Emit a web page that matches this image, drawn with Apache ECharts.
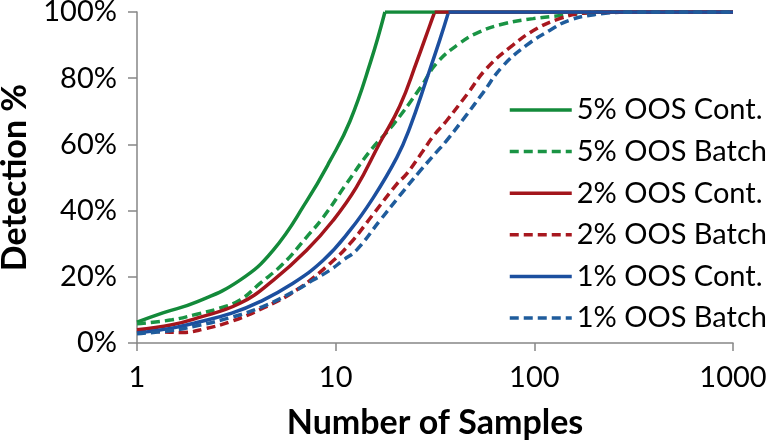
<!DOCTYPE html>
<html>
<head>
<meta charset="utf-8">
<script src="https://cdn.jsdelivr.net/npm/echarts@6/dist/echarts.min.js"></script>
<style>
html,body{margin:0;padding:0;background:#fff;}
#chart{width:767px;height:442px;}
</style>
</head>
<body>
<div id="chart"></div>
<script>
// Data (x = number of samples, y = detection %)
var seriesNames = ['5% OOS Cont.', '5% OOS Batch', '2% OOS Cont.', '2% OOS Batch', '1% OOS Cont.', '1% OOS Batch'];

var cont5X = [1, 1.35, 2, 3.3, 4.84, 7.17, 9.36, 11.8, 15, 17.7, 1000];
var cont5Y = [6.3, 9.1, 12.4, 19, 28, 43, 55, 67, 85, 100, 100];

var batch5X = [1, 1.5, 2, 2.6, 3.3, 4.16, 5.45, 7.14, 8.66, 11.3, 14.9, 19.5, 26.6, 32.2, 42, 53, 72, 98.6, 139, 200, 1000];
var batch5Y = [5.8, 7, 8.7, 10.5, 13, 18, 24, 32, 38, 48, 58, 66, 77, 84.5, 90.5, 94, 96.6, 98, 99, 100, 100];

var cont2X = [1, 1.5, 2, 3.3, 4.86, 7.14, 9.7, 12.7, 16.7, 21, 25.6, 29.8, 31.5, 1000];
var cont2Y = [4, 5.5, 7.5, 12, 19, 28, 37, 47, 60.5, 71.5, 85, 96, 100, 100];

var batch2X = [1, 1.3, 1.7, 2.2, 2.94, 4.3, 6.35, 9.36, 11.8, 15.5, 20.3, 22.7, 27.5, 31, 36, 45.7, 57.6, 78, 103, 134, 169, 220, 1000];
var batch2Y = [4, 3.4, 3.2, 4.3, 6.4, 10.5, 16, 24, 30, 39, 48, 51, 58, 62.5, 67, 75, 83, 90, 95, 98, 99.5, 100, 100];

var cont1X = [1, 1.5, 2, 3, 4.16, 5.9, 8.66, 11.8, 15.5, 20.3, 23.6, 28.8, 33.4, 37, 1000];
var cont1Y = [3, 4.5, 6.2, 9, 12.5, 17.5, 25, 34, 44, 56, 65, 80, 91.5, 100, 100];

var batch1X = [1, 1.5, 2, 3, 4.3, 6.35, 7.7, 9.36, 10.9, 12.7, 16.7, 21, 26.6, 32, 36, 45.7, 55, 69, 91.5, 120, 150, 200, 280, 1000];
var batch1Y = [2.8, 3.8, 5.2, 7.8, 11, 16, 19, 22, 25, 28, 37, 44.5, 52, 57.5, 61, 69, 75.5, 83.5, 90, 94.5, 97.5, 99.2, 100, 100];

var xTicks = [1, 10, 100, 1000];
var yTicks = [0, 20, 40, 60, 80, 100];

function zip(xs, ys) { return xs.map(function (x, i) { return [x, ys[i]]; }); }

var seriesX = [cont5X, batch5X, cont2X, batch2X, cont1X, batch1X];
var seriesY = [cont5Y, batch5Y, cont2Y, batch2Y, cont1Y, batch1Y];
var colors = ['#138a3a', '#1a9444', '#a3151c', '#a8181f', '#1c4f9f', '#1f5c9c'];
var dashed = [false, true, false, true, false, true];

var chart = echarts.init(document.getElementById('chart'), null, {renderer: 'canvas'});
var font = 'Lato';
var axisColor = '#868686';

function lineStyleFor(i) {
  return {color: colors[i], width: 3.5, type: dashed[i] ? [9, 5] : 'solid'};
}

var risingSeries = [];
var flatSeries = [];
seriesNames.forEach(function (name, i) {
  var pts = zip(seriesX[i], seriesY[i]);
  var k = seriesY[i].indexOf(100); // first point at the 100% plateau
  risingSeries.push({
    name: name, type: 'line', symbol: 'none', smooth: 0.45, clip: true,
    data: pts.slice(0, k + 1), color: colors[i], lineStyle: lineStyleFor(i), z: 2 + i
  });
  flatSeries.push({
    name: name, type: 'line', symbol: 'none', smooth: false, clip: true,
    data: pts.slice(k), color: colors[i], lineStyle: lineStyleFor(i), z: 10 + i
  });
});

var option = {
  animation: false,
  backgroundColor: '#ffffff',
  grid: {left: 137, right: 34, top: 12, bottom: 99, containLabel: false, outerBoundsMode: 'none'},
  legend: {
    orient: 'vertical',
    left: 508,
    top: 94,
    padding: 0,
    itemWidth: 62,
    itemHeight: 14,
    itemGap: 9.6,
    data: seriesNames,
    itemStyle: {opacity: 0},
    lineStyle: {width: 3.5},
    textStyle: {fontFamily: font, fontSize: 29, color: '#000', lineHeight: 32}
  },
  xAxis: {
    type: 'log',
    logBase: 10,
    min: 1,
    max: 1000,
    name: 'Number of Samples',
    nameLocation: 'middle',
    nameGap: 63,
    nameTextStyle: {fontFamily: font, fontSize: 34, fontWeight: 'bold', color: '#000'},
    axisLine: {show: true, lineStyle: {color: axisColor, width: 1.5}},
    axisTick: {show: true, length: 8, lineStyle: {color: axisColor, width: 1.5}},
    minorTick: {show: false},
    splitLine: {show: false},
    axisLabel: {fontFamily: font, fontSize: 29, color: '#000', margin: 20,
      formatter: function (v) { return xTicks.indexOf(Math.round(v)) >= 0 ? String(Math.round(v)) : ''; }}
  },
  yAxis: {
    type: 'value',
    min: 0,
    max: 100,
    interval: 20,
    name: 'Detection %',
    nameLocation: 'middle',
    nameGap: 105,
    nameTextStyle: {fontFamily: font, fontSize: 34, fontWeight: 'bold', color: '#000'},
    axisLine: {show: true, lineStyle: {color: axisColor, width: 1.5}},
    axisTick: {show: true, length: 9, lineStyle: {color: axisColor, width: 1.5}},
    splitLine: {show: false},
    axisLabel: {fontFamily: font, fontSize: 29, color: '#000', margin: 20,
      formatter: function (v) { return yTicks.indexOf(v) >= 0 ? v + '%' : ''; }}
  },
  series: risingSeries.concat(flatSeries)
};
chart.setOption(option);
</script>
</body>
</html>
